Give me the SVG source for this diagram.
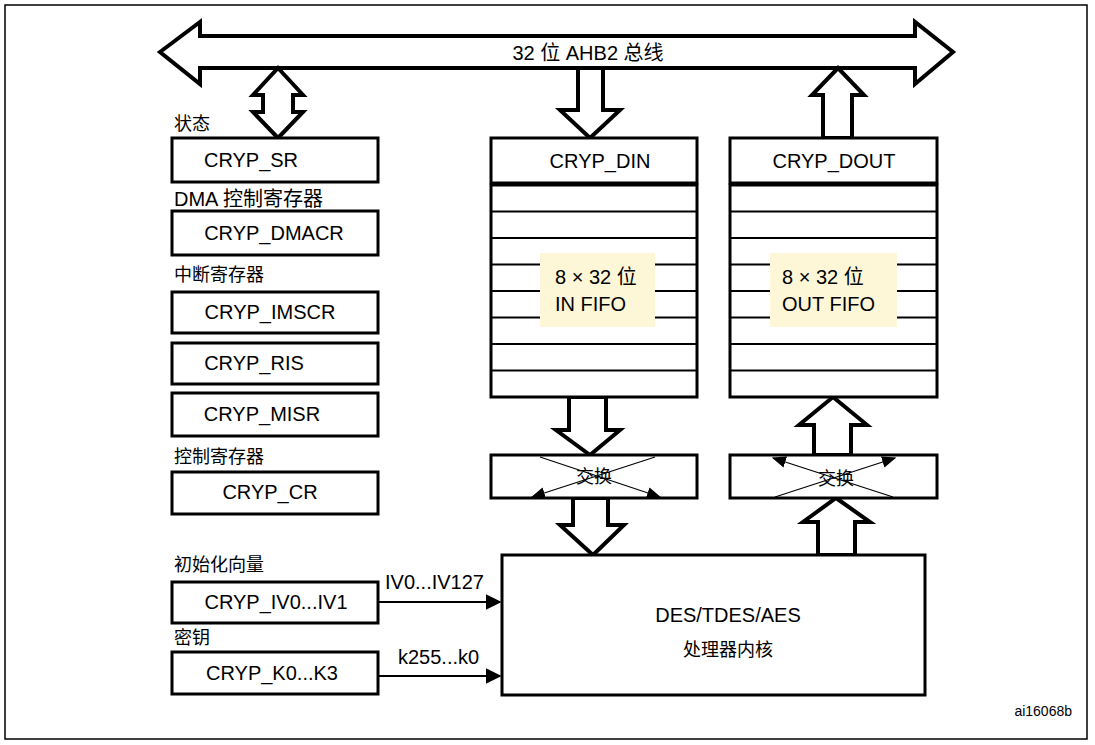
<svg xmlns="http://www.w3.org/2000/svg" width="1095" height="745" viewBox="0 0 1095 745">
<style>
.b{fill:#fff;stroke:#000;stroke-width:3}
.a{fill:#fff;stroke:#000;stroke-width:4;stroke-linejoin:miter}
.t{font-family:"Liberation Sans","Noto Sans CJK SC",sans-serif;font-size:20px;fill:#000}
.c{font-family:"Noto Sans CJK SC",sans-serif;font-size:18px;fill:#000}
.l{stroke:#000;stroke-width:2}
.th{stroke:#000;stroke-width:1.2}
</style>
<defs>
<marker id="m" viewBox="0 0 10 10" refX="9" refY="5" markerWidth="8" markerHeight="8" orient="auto"><path d="M0,0L10,5L0,10z"/></marker>
<marker id="s" viewBox="0 0 10 10" refX="9" refY="5" markerWidth="12" markerHeight="12" orient="auto"><path d="M0,1L10,5L0,9z"/></marker>
</defs>
<rect x="5" y="5" width="1082" height="734" fill="#fff" stroke="#000" stroke-width="1.5"/>
<g id="connectors">
<path class="a" d="M160,52 L200,22 L200,36 L915,36 L915,22 L953,52 L915,84 L915,68 L200,68 L200,84 Z"/>
<path class="a" d="M278,68 L303,95 L293,95 L293,112 L303,112 L278,138 L253,112 L263,112 L263,95 L253,95 Z"/>
<path class="a" d="M578,68 L603,68 L603,110 L620,110 L590,138 L560,110 L578,110 Z"/>
<path class="a" d="M838,68 L864,95 L852,95 L852,138 L823,138 L823,95 L812,95 Z"/>
<path class="a" d="M569,397 L606,397 L606,430 L620,430 L590,455 L556,430 L569,430 Z"/>
<path class="a" d="M573,498 L608,498 L608,525 L624,525 L593,555 L560,525 L573,525 Z"/>
<path class="a" d="M833,397 L867,425 L851,425 L851,455 L814,455 L814,425 L799,425 Z"/>
<path class="a" d="M836,498 L870,522 L855,522 L855,555 L818,555 L818,522 L803,522 Z"/>
<line class="l" x1="378" y1="602" x2="500" y2="602" marker-end="url(#m)"/>
<line class="l" x1="378" y1="676" x2="500" y2="676" marker-end="url(#m)"/>
</g>
<g id="bus-label"><text class="t" x="588" y="60" text-anchor="middle">32 位 AHB2 总线</text></g>
<g id="sr"><text class="c" x="174" y="130">状态</text><rect class="b" x="172" y="138" width="206" height="44"/><text class="t" x="251" y="167" text-anchor="middle">CRYP_SR</text></g>
<g id="dmacr"><text class="t" x="174" y="206">DMA 控制寄存器</text><rect class="b" x="172" y="211" width="206" height="44"/><text class="t" x="274" y="240" text-anchor="middle">CRYP_DMACR</text></g>
<g id="imscr"><text class="c" x="174" y="281">中断寄存器</text><rect class="b" x="172" y="292" width="206" height="41"/><text class="t" x="270" y="319" text-anchor="middle">CRYP_IMSCR</text></g>
<g id="ris"><rect class="b" x="172" y="343" width="206" height="41"/><text class="t" x="254" y="370" text-anchor="middle">CRYP_RIS</text></g>
<g id="misr"><rect class="b" x="172" y="393" width="206" height="43"/><text class="t" x="262" y="421" text-anchor="middle">CRYP_MISR</text></g>
<g id="cr"><text class="c" x="174" y="463">控制寄存器</text><rect class="b" x="172" y="472" width="206" height="42"/><text class="t" x="270" y="499" text-anchor="middle">CRYP_CR</text></g>
<g id="iv"><text class="c" x="174" y="571">初始化向量</text><rect class="b" x="172" y="582" width="206" height="41"/><text class="t" x="276" y="609" text-anchor="middle">CRYP_IV0...IV1</text><text class="t" x="385" y="589">IV0...IV127</text></g>
<g id="key"><text class="c" x="174" y="644">密钥</text><rect class="b" x="172" y="652" width="206" height="42"/><text class="t" x="272" y="680" text-anchor="middle">CRYP_K0...K3</text><text class="t" x="398" y="664">k255...k0</text></g>
<g id="din"><rect class="b" x="491" y="138" width="206" height="45"/><text class="t" x="600" y="168" text-anchor="middle">CRYP_DIN</text></g>
<g id="infifo">
<rect class="b" x="491" y="185" width="206" height="212"/>
<path class="l" d="M491,211.5H697M491,238H697M491,264.5H697M491,291H697M491,317.5H697M491,344H697M491,370.5H697"/>
<rect x="540" y="253" width="115" height="74" fill="#fdf7d8"/>
<text class="t" x="555" y="284">8 × 32 位</text><text class="t" x="555" y="311">IN FIFO</text>
</g>
<g id="dout"><rect class="b" x="730" y="138" width="207" height="45"/><text class="t" x="834" y="168" text-anchor="middle">CRYP_DOUT</text></g>
<g id="outfifo">
<rect class="b" x="730" y="185" width="207" height="212"/>
<path class="l" d="M730,211.5H937M730,238H937M730,264.5H937M730,291H937M730,317.5H937M730,344H937M730,370.5H937"/>
<rect x="770" y="253" width="127" height="74" fill="#fdf7d8"/>
<text class="t" x="782" y="284">8 × 32 位</text><text class="t" x="782" y="311">OUT FIFO</text>
</g>
<g id="swap-in"><rect class="b" x="491" y="455" width="206" height="43"/>
<line class="th" x1="540" y1="457" x2="660" y2="497" marker-end="url(#s)"/>
<line class="th" x1="655" y1="457" x2="532" y2="497" marker-end="url(#s)"/>
<text class="c" x="594" y="483" text-anchor="middle">交换</text></g>
<g id="swap-out"><rect class="b" x="730" y="455" width="207" height="43"/>
<line class="th" x1="775" y1="497" x2="895" y2="458" marker-end="url(#s)"/>
<line class="th" x1="893" y1="497" x2="773" y2="458" marker-end="url(#s)"/>
<text class="c" x="836" y="485" text-anchor="middle">交换</text></g>
<g id="core"><rect class="b" x="502" y="555" width="423" height="140"/><text class="t" x="728" y="622" text-anchor="middle">DES/TDES/AES</text><text class="c" x="728" y="656" text-anchor="middle">处理器内核</text></g>
<g id="ref"><text x="1072" y="716" text-anchor="end" style="font-family:'Liberation Sans',sans-serif;font-size:14px">ai16068b</text></g>
</svg>
